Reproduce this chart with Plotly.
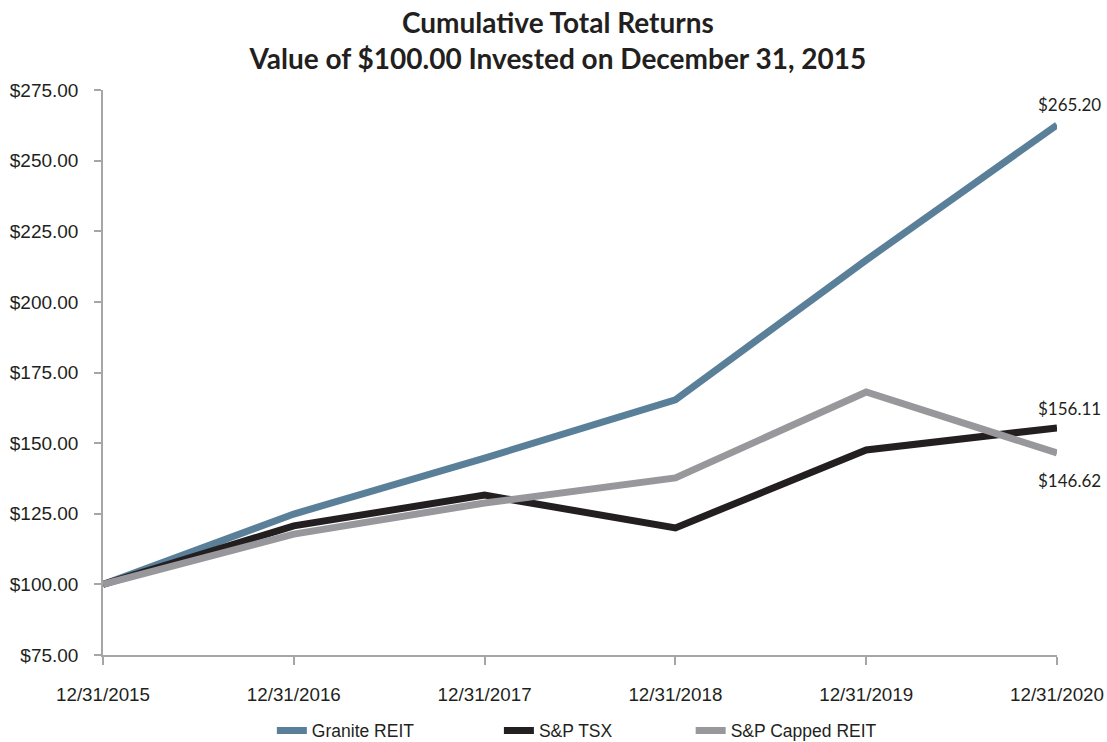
import plotly.graph_objects as go

dates = ["12/31/2015", "12/31/2016", "12/31/2017", "12/31/2018", "12/31/2019", "12/31/2020"]
granite = [100.0, 124.9, 144.7, 165.3, 214.8, 262.6]
tsx = [100.0, 120.7, 131.6, 120.0, 147.6, 155.4]
capped = [100.0, 117.8, 128.8, 137.7, 168.1, 146.5]
end_labels = ["$265.20", "$156.11", "$146.62"]
label_y = [270.0, 162.4, 136.6]
y_ticks = [75, 100, 125, 150, 175, 200, 225, 250, 275]

fig = go.Figure()
series = [("Granite REIT", granite, "#5a7f99", "legend"),
          ("S&P TSX", tsx, "#231f20", "legend2"),
          ("S&P Capped REIT", capped, "#98989c", "legend3")]
for name, vals, col, lg in series:
    fig.add_trace(go.Scatter(x=dates, y=vals, name=name, mode="lines",
                             line=dict(color=col, width=7), legend=lg))

for txt, yv in zip(end_labels, label_y):
    fig.add_annotation(x=dates[-1], y=yv, text=txt, showarrow=False,
                       xshift=12, font=dict(family="Lato", size=17, color="#231f20"))

legend_font = dict(family="Liberation Sans", size=17.5, color="#231f20")
leg_common = dict(orientation="h", y=-0.134, yanchor="middle", xanchor="left",
                  font=legend_font, bgcolor="rgba(0,0,0,0)", borderwidth=0)

fig.update_layout(
    width=1107, height=742,
    paper_bgcolor="white", plot_bgcolor="white",
    margin=dict(l=103, r=50, t=90, b=87, autoexpand=False),
    title=dict(text="<b>Cumulative Total Returns<br>Value of $100.00 Invested on December 31, 2015</b>",
               x=0.504, xref="container", xanchor="center", y=0.956, yanchor="top",
               font=dict(family="Lato", size=28, color="#231f20")),
    xaxis=dict(type="category", range=[0, 5], showgrid=False, showline=True,
               linecolor="#a6a6a6", linewidth=1.5, ticks="outside", ticklen=8,
               tickcolor="#a6a6a6", tickwidth=1.5,
               tickfont=dict(family="Liberation Sans", size=18.8, color="#231f20"),
               ticklabelstandoff=14),
    yaxis=dict(range=[75, 275], tickvals=y_ticks, tickformat="$,.2f", showgrid=False,
               showline=True, linecolor="#a6a6a6", linewidth=1.5, ticks="outside",
               ticklen=7, tickcolor="#a6a6a6", tickwidth=1.5, zeroline=False,
               tickfont=dict(family="Liberation Sans", size=19, color="#231f20"),
               ticklabelstandoff=12),
    legend=dict(x=0.177, **leg_common),
    legend2=dict(x=0.415, **leg_common),
    legend3=dict(x=0.616, **leg_common),
    showlegend=True,
)

fig.write_html("out.html", config={"displayModeBar": False},
               post_script="document.body.style.margin='0px';document.body.style.overflow='hidden';")
